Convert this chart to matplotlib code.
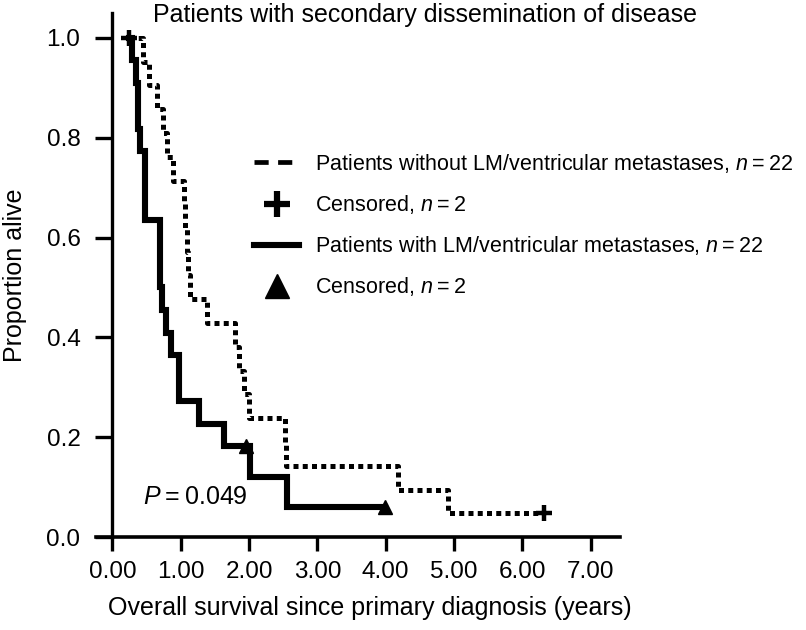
import matplotlib
matplotlib.use("Agg")
import matplotlib.pyplot as plt
from matplotlib.lines import Line2D

plt.rcParams['font.family'] = ['Liberation Sans', 'DejaVu Sans']
plt.rcParams['mathtext.fontset'] = 'custom'
plt.rcParams['mathtext.it'] = 'Liberation Sans:italic'
plt.rcParams['mathtext.rm'] = 'Liberation Sans'

# ---- data ----
# Patients without LM/ventricular metastases (dotted)
t_without = [0.25, 0.45, 0.54, 0.66, 0.74, 0.80, 0.88, 1.05, 1.07, 1.09, 1.11, 1.13,
             1.38, 1.80, 1.86, 1.93, 2.00, 2.52, 2.54, 4.18, 4.91, 6.32]
s_without = [1.000, 0.952, 0.905, 0.857, 0.810, 0.762, 0.714, 0.667, 0.619, 0.571, 0.524, 0.476,
             0.429, 0.381, 0.333, 0.286, 0.238, 0.190, 0.143, 0.095, 0.048, 0.048]
cens_without_t = [0.25, 6.32]
cens_without_s = [1.000, 0.048]

# Patients with LM/ventricular metastases (solid)
t_with = [0.25, 0.28, 0.35, 0.37, 0.38, 0.40, 0.47, 0.69, 0.73, 0.79, 0.86, 0.98,
          1.27, 1.63, 2.02, 2.56, 3.99]
s_with = [1.000, 0.955, 0.909, 0.864, 0.818, 0.773, 0.636, 0.500, 0.455, 0.409, 0.364, 0.273,
          0.227, 0.182, 0.121, 0.061, 0.061]
cens_with_t = [1.95, 3.99]
cens_with_s = [0.182, 0.061]

x_ticks = [0, 1, 2, 3, 4, 5, 6, 7]
x_ticklabels = ["0.00", "1.00", "2.00", "3.00", "4.00", "5.00", "6.00", "7.00"]
y_ticks = [0.0, 0.2, 0.4, 0.6, 0.8, 1.0]
y_ticklabels = ["0.0", "0.2", "0.4", "0.6", "0.8", "1.0"]

label_without = "Patients without LM/ventricular metastases, $n$\u2009=\u200922"
label_cens = "Censored, $n$\u2009=\u20092"
label_with = "Patients with LM/ventricular metastases, $n$\u2009=\u200922"
title = "Patients with secondary dissemination of disease"
p_text = "$P$\u2009=\u20090.049"

W, H = 806, 630
fig = plt.figure(figsize=(W / 100, H / 100), dpi=100)
ax = fig.add_axes([96 / W, 1 - 537 / H, (620 - 96) / W, (537 - 13) / H])

FS_TICK = 17.5
FS_LAB = 18
FS_LEG = 15.5

ax.step(t_without, s_without, where='post', color='black', lw=3.6,
        linestyle=(0, (1, 0.85)))
ax.step(t_with, s_with, where='post', color='black', lw=4.4, solid_joinstyle='miter')
ax.plot(cens_without_t, cens_without_s, linestyle='none', marker='+', color='black',
        markersize=11, markeredgewidth=3.2)
ax.plot(cens_with_t, cens_with_s, linestyle='none', marker='^', color='black',
        markersize=10)

ax.set_xlim(-0.24, 7.43)
ax.set_ylim(0, 1.05)
ax.spines['left'].set_position(('data', 0))
ax.spines['right'].set_visible(False)
ax.spines['top'].set_visible(False)
ax.spines['left'].set_linewidth(2.4)
ax.spines['bottom'].set_linewidth(2.6)
ax.set_xticks(x_ticks)
ax.set_xticklabels(x_ticklabels)
ax.set_yticks(y_ticks)
ax.set_yticklabels(y_ticklabels)
ax.tick_params(axis='x', length=10, width=2.4, pad=7, labelsize=FS_TICK)
ax.tick_params(axis='y', length=12, width=2.4, pad=11, labelsize=FS_TICK)

fig.text(370 / W, 1 - 608 / H, "Overall survival since primary diagnosis (years)",
         fontsize=FS_LAB, ha='center', va='center')
fig.text(15 / W, 1 - 275 / H, "Proportion alive", rotation=90, fontsize=FS_LAB,
         ha='center', va='center')
fig.text(153 / W, 1 - 15 / H, title, fontsize=FS_LAB, ha='left', va='center')
ax.text(0.45, 0.08, p_text, fontsize=FS_LAB, ha='left', va='center')

handles = [
    Line2D([], [], color='black', lw=3.4, linestyle=(0, (3, 2))),
    Line2D([], [], color='black', linestyle='none', marker='+', markersize=19,
           markeredgewidth=4.5),
    Line2D([], [], color='black', lw=4.4),
    Line2D([], [], color='black', linestyle='none', marker='^', markersize=17),
]
labels = [label_without, label_cens, label_with, label_cens]
ax.legend(handles, labels, loc='upper left', bbox_to_anchor=(254 / W, 1 - 152 / H),
          bbox_transform=fig.transFigure, frameon=False, fontsize=FS_LEG,
          handlelength=2.1, handletextpad=0.74, labelspacing=0.84,
          borderpad=0, borderaxespad=0)

fig.savefig("out.png", dpi=100)
